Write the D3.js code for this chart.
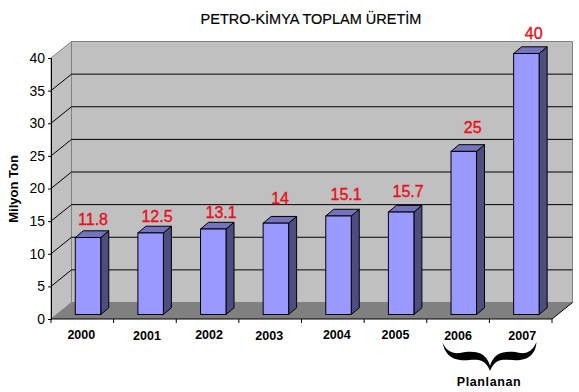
<!DOCTYPE html>
<html>
<head>
<meta charset="utf-8">
<script src="https://cdn.jsdelivr.net/npm/d3@7"></script>
<style>
  html, body { margin: 0; padding: 0; background: #fff; }
  svg { display: block; }
  text { font-family: "Liberation Sans", Arial, sans-serif; }
</style>
</head>
<body>
<div id="chart"></div>
<script>
const years = ["2000", "2001", "2002", "2003", "2004", "2005", "2006", "2007"];
const production = [11.8, 12.5, 13.1, 14, 15.1, 15.7, 25, 40];
const yTicks = [0, 5, 10, 15, 20, 25, 30, 35, 40];

const width = 579, height = 392;
const depth = {x: 20.5, y: 16.5};      // wall sits this far behind the axes
const barDepth = {x: 8, y: 6.7};
const barShift = {x: 5.7, y: 4.5};
// hand placed labels in the original, so they wander a bit
const yearNudge = [[-1, 0], [2, 1], [1.5, 0], [-1, 1], [4, 0], [0, 0], [0, 1], [1.5, 1]];
const labelNudge = [[1, -0.5], [2.4, 0.8], [3.8, 1], [0.2, -7], [3.6, -4], [3, -3], [5, -6], [3.3, -2.5]];

const xScale = d3.scaleBand().domain(years).range([51, 552]).paddingInner(0.593).paddingOuter(0.2965);
const yScale = d3.scaleLinear().domain([0, 40]).range([319, 58]);

const svg = d3.select("#chart").append("svg")
    .attr("width", width)
    .attr("height", height);

const poly = pts => pts.map(p => p.join(",")).join(" ");
const x0 = xScale.range()[0], x1 = xScale.range()[1];
const y0 = yScale(0), yTop = yScale(40);

// back wall, side wall, floor
svg.append("polygon")
    .attr("points", poly([[x0 + depth.x, yTop - depth.y], [x1 + depth.x, yTop - depth.y], [x1 + depth.x, y0 - depth.y], [x0 + depth.x, y0 - depth.y]]))
    .attr("fill", "#c0c0c0")
    .attr("stroke", "#808080");
svg.append("polygon")
    .attr("points", poly([[x0, yTop], [x0 + depth.x, yTop - depth.y], [x0 + depth.x, y0 - depth.y], [x0, y0]]))
    .attr("fill", "#c0c0c0")
    .attr("stroke", "#808080");
svg.append("polygon")
    .attr("points", poly([[x0, y0], [x0 + depth.x, y0 - depth.y], [x1 + depth.x, y0 - depth.y], [x1, y0]]))
    .attr("fill", "#808080");
svg.append("line")
    .attr("x1", x1).attr("y1", y0)
    .attr("x2", x1 + depth.x).attr("y2", y0 - depth.y)
    .attr("stroke", "#000");

// gridlines wrap from the axis onto the back wall
svg.append("g").selectAll("polyline")
    .data(yTicks.filter(d => d > 0 && d < 40))
    .join("polyline")
    .attr("points", d => poly([[x0, yScale(d)], [x0 + depth.x, yScale(d) - depth.y], [x1 + depth.x, yScale(d) - depth.y]]))
    .attr("fill", "none")
    .attr("stroke", "#000");

// axes
const yAxis = d3.axisLeft(yScale).tickValues(yTicks).tickSize(3).tickPadding(3);
const gy = svg.append("g").attr("transform", `translate(${x0},0)`).call(yAxis);
gy.selectAll("text").attr("font-size", 14).attr("fill", "#000").attr("font-family", "Liberation Sans");
gy.select(".domain").attr("stroke", "#000");

const tickEdges = d3.range(years.length + 1).map(i => x0 + i * xScale.step());
const gx = svg.append("g");
gx.append("line").attr("x1", x0).attr("x2", x1).attr("y1", y0).attr("y2", y0).attr("stroke", "#000");
gx.selectAll(".edge").data(tickEdges).join("line")
    .attr("class", "edge")
    .attr("x1", d => d).attr("x2", d => d)
    .attr("y1", y0).attr("y2", y0 + 4)
    .attr("stroke", "#000");
gx.selectAll(".year").data(years).join("text")
    .attr("class", "year")
    .attr("x", (d, i) => xScale(d) + xScale.bandwidth() / 2 + barShift.x - 5.7 + yearNudge[i][0])
    .attr("y", (d, i) => 339 + yearNudge[i][1])
    .attr("text-anchor", "middle")
    .attr("font-size", 12.5)
    .attr("font-weight", "bold")
    .text(d => d);

// bars
const rows = years.map((year, i) => ({year, value: production[i], i}));
const bar = svg.append("g").selectAll("g").data(rows).join("g")
    .attr("transform", d => `translate(${xScale(d.year) + barShift.x},${-barShift.y})`);
const bw = xScale.bandwidth();
bar.append("polygon") // side
    .attr("points", d => poly([[bw, yScale(d.value)], [bw + barDepth.x, yScale(d.value) - barDepth.y], [bw + barDepth.x, y0 - barDepth.y], [bw, y0]]))
    .attr("fill", "#4d4d80")
    .attr("stroke", "#000");
bar.append("polygon") // top
    .attr("points", d => poly([[0, yScale(d.value)], [barDepth.x, yScale(d.value) - barDepth.y], [bw + barDepth.x, yScale(d.value) - barDepth.y], [bw, yScale(d.value)]]))
    .attr("fill", "#7373bf")
    .attr("stroke", "#000");
bar.append("rect")
    .attr("x", 0)
    .attr("y", d => yScale(d.value))
    .attr("width", bw)
    .attr("height", d => y0 - yScale(d.value))
    .attr("fill", "#9999ff")
    .attr("stroke", "#000");

// value labels
svg.append("g").selectAll("text").data(rows).join("text")
    .attr("x", d => xScale(d.year) + barShift.x + bw / 2 + 4 + labelNudge[d.i][0])
    .attr("y", d => yScale(d.value) - barShift.y - 12 + labelNudge[d.i][1])
    .attr("text-anchor", "middle")
    .attr("font-size", 16)
    .attr("fill", "#e8101c")
    .attr("stroke", "#e8101c")
    .attr("stroke-width", 0.4)
    .text(d => d.value);

// title
svg.append("text")
    .attr("x", 311).attr("y", 24)
    .attr("text-anchor", "middle")
    .attr("font-size", 14.5)
    .attr("fill", "#000")
    .attr("stroke", "#000")
    .attr("stroke-width", 0.2)
    .text("PETRO-KİMYA TOPLAM ÜRETİM");

// y axis title
svg.append("text")
    .attr("transform", "translate(18,189) rotate(-90)")
    .attr("text-anchor", "middle")
    .attr("font-size", 13)
    .attr("font-weight", "bold")
    .text("Milyon Ton");

// brace under the planned years
svg.append("path")
    .attr("d", "M442.5,342 C445,350 452,354 460,353 C468,351 478,351 483,355 C487,358 489,362 490,366 C491,362 493,358 497,355 C503,351 513,351 520,353 C528,354 533,350 536.5,342 C536,352 530,359 520,360 C512,361 504,358 498,361 C494,363 492,366 490,371 C488,366 486,363 482,361 C476,358 468,361 460,360 C450,359 444,352 442.5,342 Z")
    .attr("fill", "#000");
svg.append("text")
    .attr("x", 489).attr("y", 386)
    .attr("text-anchor", "middle")
    .attr("font-size", 12.5)
    .attr("font-weight", "bold")
    .attr("letter-spacing", 0.6)
    .text("Planlanan");
</script>
</body>
</html>
